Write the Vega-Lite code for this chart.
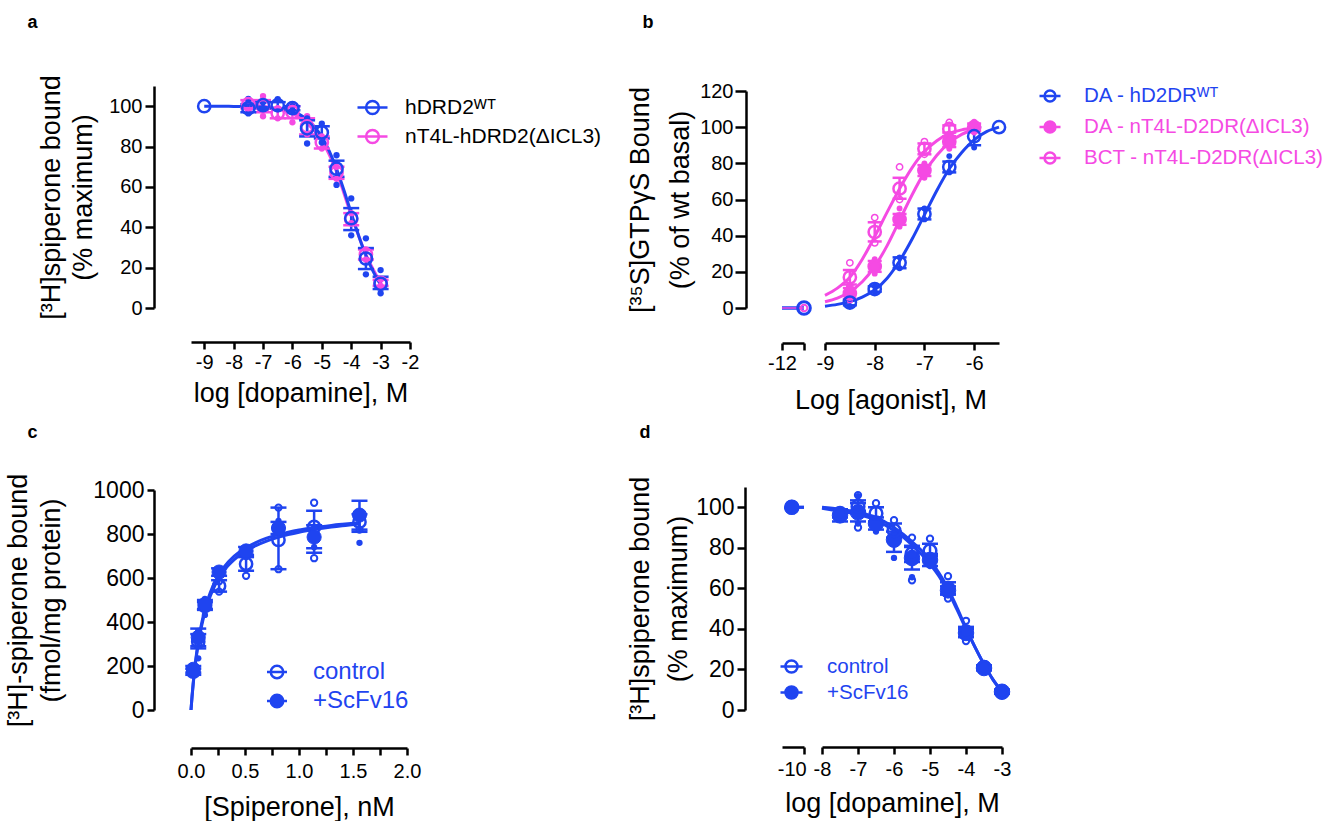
{
"$schema":"https://vega.github.io/schema/vega-lite/v6.json",
"padding":{"left":4,"top":13,"right":5,"bottom":5},
"config":{
 "font":"Liberation Sans",
 "view":{"stroke":null},
 "axis":{"domainColor":"black","domainWidth":2.5,"tickColor":"black","tickWidth":2.5,"tickSize":7,"labelFont":"Liberation Sans","labelFontSize":20,"labelColor":"black","labelPadding":3,"titleFont":"Liberation Sans","titleFontSize":27,"titleFontWeight":"normal","titleColor":"black","grid":false,"labelFlush":false,"labelOverlap":false},
 "legend":{"labelFont":"Liberation Sans","padding":0,"labelLimit":600,"symbolOpacity":1,"symbolStrokeWidth":2.5}
},
"columns":2,
"bounds":"flush",
"spacing":{"row":179,"column":372},
"resolve":{"scale":{"color":"independent","stroke":"independent","fill":"independent"},"legend":{"color":"independent","stroke":"independent","fill":"independent"}},
"datasets":{
 "a_curve":[
  {"s":"nT4L-hDRD2(ΔICL3)","x":-7.5,"y":100.5},{"s":"nT4L-hDRD2(ΔICL3)","x":-7,"y":100},{"s":"nT4L-hDRD2(ΔICL3)","x":-6.5,"y":98.5},{"s":"nT4L-hDRD2(ΔICL3)","x":-6,"y":96.5},{"s":"nT4L-hDRD2(ΔICL3)","x":-5.5,"y":91.5},{"s":"nT4L-hDRD2(ΔICL3)","x":-5,"y":83},{"s":"nT4L-hDRD2(ΔICL3)","x":-4.5,"y":67.5},{"s":"nT4L-hDRD2(ΔICL3)","x":-4,"y":46},{"s":"nT4L-hDRD2(ΔICL3)","x":-3.5,"y":26.5},{"s":"nT4L-hDRD2(ΔICL3)","x":-3,"y":12.5},
  {"s":"hDRD2ᵂᵀ","x":-9,"y":100},{"s":"hDRD2ᵂᵀ","x":-8.5,"y":100},{"s":"hDRD2ᵂᵀ","x":-8,"y":99.9},{"s":"hDRD2ᵂᵀ","x":-7.5,"y":99.8},{"s":"hDRD2ᵂᵀ","x":-7,"y":99.5},{"s":"hDRD2ᵂᵀ","x":-6.5,"y":98.8},{"s":"hDRD2ᵂᵀ","x":-6,"y":97.3},{"s":"hDRD2ᵂᵀ","x":-5.75,"y":95.8},{"s":"hDRD2ᵂᵀ","x":-5.5,"y":93.3},{"s":"hDRD2ᵂᵀ","x":-5.25,"y":89.8},{"s":"hDRD2ᵂᵀ","x":-5,"y":84.8},{"s":"hDRD2ᵂᵀ","x":-4.75,"y":77.8},{"s":"hDRD2ᵂᵀ","x":-4.5,"y":69},{"s":"hDRD2ᵂᵀ","x":-4.25,"y":58.5},{"s":"hDRD2ᵂᵀ","x":-4,"y":47},{"s":"hDRD2ᵂᵀ","x":-3.75,"y":36},{"s":"hDRD2ᵂᵀ","x":-3.5,"y":26},{"s":"hDRD2ᵂᵀ","x":-3.25,"y":18},{"s":"hDRD2ᵂᵀ","x":-3,"y":11.5}
 ],
 "a_mean":[
  {"s":"nT4L-hDRD2(ΔICL3)","x":-7.5,"y":101,"lo":99,"hi":103},{"s":"nT4L-hDRD2(ΔICL3)","x":-7,"y":100,"lo":97,"hi":103},{"s":"nT4L-hDRD2(ΔICL3)","x":-6.5,"y":96.5,"lo":94,"hi":99},{"s":"nT4L-hDRD2(ΔICL3)","x":-6,"y":97,"lo":94,"hi":100},{"s":"nT4L-hDRD2(ΔICL3)","x":-5.5,"y":90,"lo":86,"hi":94},{"s":"nT4L-hDRD2(ΔICL3)","x":-5,"y":82,"lo":79,"hi":85},{"s":"nT4L-hDRD2(ΔICL3)","x":-4.5,"y":67,"lo":64,"hi":70},{"s":"nT4L-hDRD2(ΔICL3)","x":-4,"y":44,"lo":41,"hi":47},{"s":"nT4L-hDRD2(ΔICL3)","x":-3.5,"y":26.5,"lo":24,"hi":29},{"s":"nT4L-hDRD2(ΔICL3)","x":-3,"y":12.5,"lo":11,"hi":14},
  {"s":"hDRD2ᵂᵀ","x":-9,"y":100},{"s":"hDRD2ᵂᵀ","x":-7.5,"y":99,"lo":97,"hi":101},{"s":"hDRD2ᵂᵀ","x":-7,"y":100.5,"lo":99,"hi":102},{"s":"hDRD2ᵂᵀ","x":-6.5,"y":100.5,"lo":99,"hi":102},{"s":"hDRD2ᵂᵀ","x":-6,"y":99,"lo":98,"hi":100},{"s":"hDRD2ᵂᵀ","x":-5.5,"y":89,"lo":85,"hi":93},{"s":"hDRD2ᵂᵀ","x":-5,"y":87,"lo":84,"hi":90},{"s":"hDRD2ᵂᵀ","x":-4.5,"y":69,"lo":65,"hi":73},{"s":"hDRD2ᵂᵀ","x":-4,"y":44.5,"lo":38.6,"hi":49.5},{"s":"hDRD2ᵂᵀ","x":-3.5,"y":24.5,"lo":19.3,"hi":29.7},{"s":"hDRD2ᵂᵀ","x":-3,"y":12,"lo":9.4,"hi":15.5}
 ],
 "a_rep":[
  {"s":"nT4L-hDRD2(ΔICL3)","x":-7.5,"y":103},{"s":"nT4L-hDRD2(ΔICL3)","x":-7.5,"y":98},{"s":"nT4L-hDRD2(ΔICL3)","x":-7,"y":105},{"s":"nT4L-hDRD2(ΔICL3)","x":-7,"y":95},{"s":"nT4L-hDRD2(ΔICL3)","x":-6.5,"y":94},{"s":"nT4L-hDRD2(ΔICL3)","x":-6.5,"y":99},{"s":"nT4L-hDRD2(ΔICL3)","x":-6,"y":101},{"s":"nT4L-hDRD2(ΔICL3)","x":-6,"y":92},{"s":"nT4L-hDRD2(ΔICL3)","x":-5.5,"y":95},{"s":"nT4L-hDRD2(ΔICL3)","x":-5.5,"y":86},{"s":"nT4L-hDRD2(ΔICL3)","x":-5,"y":79},{"s":"nT4L-hDRD2(ΔICL3)","x":-5,"y":85},{"s":"nT4L-hDRD2(ΔICL3)","x":-4.5,"y":64},{"s":"nT4L-hDRD2(ΔICL3)","x":-4.5,"y":70},{"s":"nT4L-hDRD2(ΔICL3)","x":-4,"y":42},{"s":"nT4L-hDRD2(ΔICL3)","x":-4,"y":47},{"s":"nT4L-hDRD2(ΔICL3)","x":-3.5,"y":24},{"s":"nT4L-hDRD2(ΔICL3)","x":-3.5,"y":29},{"s":"nT4L-hDRD2(ΔICL3)","x":-3,"y":11},{"s":"nT4L-hDRD2(ΔICL3)","x":-3,"y":14},
  {"s":"hDRD2ᵂᵀ","x":-7.5,"y":103.6},{"s":"hDRD2ᵂᵀ","x":-7.5,"y":96.4},{"s":"hDRD2ᵂᵀ","x":-7,"y":102},{"s":"hDRD2ᵂᵀ","x":-7,"y":99},{"s":"hDRD2ᵂᵀ","x":-6.5,"y":103.5},{"s":"hDRD2ᵂᵀ","x":-6.5,"y":98.5},{"s":"hDRD2ᵂᵀ","x":-6,"y":100},{"s":"hDRD2ᵂᵀ","x":-6,"y":98},{"s":"hDRD2ᵂᵀ","x":-5.5,"y":94},{"s":"hDRD2ᵂᵀ","x":-5.5,"y":81.5},{"s":"hDRD2ᵂᵀ","x":-5,"y":91.4},{"s":"hDRD2ᵂᵀ","x":-5,"y":82},{"s":"hDRD2ᵂᵀ","x":-4.5,"y":75.7},{"s":"hDRD2ᵂᵀ","x":-4.5,"y":61},{"s":"hDRD2ᵂᵀ","x":-4,"y":54.3},{"s":"hDRD2ᵂᵀ","x":-4,"y":36},{"s":"hDRD2ᵂᵀ","x":-3.5,"y":34.5},{"s":"hDRD2ᵂᵀ","x":-3.5,"y":16.7},{"s":"hDRD2ᵂᵀ","x":-3,"y":18.8},{"s":"hDRD2ᵂᵀ","x":-3,"y":7.3}
 ],
 "b_basal":[
  {"s":"DA - hD2DRᵂᵀ","x":-12,"y":0},{"s":"DA - hD2DRᵂᵀ","x":-11.5,"y":0},{"s":"BCT - nT4L-D2DR(ΔICL3)","x":-12,"y":0},{"s":"BCT - nT4L-D2DR(ΔICL3)","x":-11.5,"y":0}
 ],
 "b_curve":[
  {"s":"BCT - nT4L-D2DR(ΔICL3)","x":-9,"y":7},{"s":"BCT - nT4L-D2DR(ΔICL3)","x":-8.75,"y":11},{"s":"BCT - nT4L-D2DR(ΔICL3)","x":-8.5,"y":17},{"s":"BCT - nT4L-D2DR(ΔICL3)","x":-8.25,"y":27},{"s":"BCT - nT4L-D2DR(ΔICL3)","x":-8,"y":39.5},{"s":"BCT - nT4L-D2DR(ΔICL3)","x":-7.75,"y":53},{"s":"BCT - nT4L-D2DR(ΔICL3)","x":-7.5,"y":66},{"s":"BCT - nT4L-D2DR(ΔICL3)","x":-7.25,"y":77.5},{"s":"BCT - nT4L-D2DR(ΔICL3)","x":-7,"y":86.5},{"s":"BCT - nT4L-D2DR(ΔICL3)","x":-6.75,"y":92.5},{"s":"BCT - nT4L-D2DR(ΔICL3)","x":-6.5,"y":96.5},{"s":"BCT - nT4L-D2DR(ΔICL3)","x":-6.25,"y":98.5},{"s":"BCT - nT4L-D2DR(ΔICL3)","x":-6,"y":99.5},
  {"s":"DA - nT4L-D2DR(ΔICL3)","x":-9,"y":3.5},{"s":"DA - nT4L-D2DR(ΔICL3)","x":-8.75,"y":5.5},{"s":"DA - nT4L-D2DR(ΔICL3)","x":-8.5,"y":9},{"s":"DA - nT4L-D2DR(ΔICL3)","x":-8.25,"y":14.5},{"s":"DA - nT4L-D2DR(ΔICL3)","x":-8,"y":23},{"s":"DA - nT4L-D2DR(ΔICL3)","x":-7.75,"y":34.5},{"s":"DA - nT4L-D2DR(ΔICL3)","x":-7.5,"y":48.5},{"s":"DA - nT4L-D2DR(ΔICL3)","x":-7.25,"y":62.5},{"s":"DA - nT4L-D2DR(ΔICL3)","x":-7,"y":75},{"s":"DA - nT4L-D2DR(ΔICL3)","x":-6.75,"y":84.5},{"s":"DA - nT4L-D2DR(ΔICL3)","x":-6.5,"y":91.5},{"s":"DA - nT4L-D2DR(ΔICL3)","x":-6.25,"y":96},{"s":"DA - nT4L-D2DR(ΔICL3)","x":-6,"y":99},
  {"s":"DA - hD2DRᵂᵀ","x":-9,"y":1},{"s":"DA - hD2DRᵂᵀ","x":-8.75,"y":2},{"s":"DA - hD2DRᵂᵀ","x":-8.5,"y":3.5},{"s":"DA - hD2DRᵂᵀ","x":-8.25,"y":6},{"s":"DA - hD2DRᵂᵀ","x":-8,"y":10},{"s":"DA - hD2DRᵂᵀ","x":-7.75,"y":16.5},{"s":"DA - hD2DRᵂᵀ","x":-7.5,"y":26},{"s":"DA - hD2DRᵂᵀ","x":-7.25,"y":38},{"s":"DA - hD2DRᵂᵀ","x":-7,"y":51.5},{"s":"DA - hD2DRᵂᵀ","x":-6.75,"y":65},{"s":"DA - hD2DRᵂᵀ","x":-6.5,"y":77},{"s":"DA - hD2DRᵂᵀ","x":-6.25,"y":86},{"s":"DA - hD2DRᵂᵀ","x":-6,"y":93},{"s":"DA - hD2DRᵂᵀ","x":-5.75,"y":97.5},{"s":"DA - hD2DRᵂᵀ","x":-5.5,"y":100}
 ],
 "b_mean":[
  {"s":"BCT - nT4L-D2DR(ΔICL3)","x":-8.5,"y":17,"lo":13,"hi":21},{"s":"BCT - nT4L-D2DR(ΔICL3)","x":-8,"y":42,"lo":36.8,"hi":47.4},{"s":"BCT - nT4L-D2DR(ΔICL3)","x":-7.5,"y":66,"lo":60.4,"hi":72},{"s":"BCT - nT4L-D2DR(ΔICL3)","x":-7,"y":88,"lo":85,"hi":91},{"s":"BCT - nT4L-D2DR(ΔICL3)","x":-6.5,"y":99,"lo":97,"hi":101},
  {"s":"DA - nT4L-D2DR(ΔICL3)","x":-8.5,"y":8,"lo":5,"hi":11},{"s":"DA - nT4L-D2DR(ΔICL3)","x":-8,"y":23,"lo":20,"hi":26},{"s":"DA - nT4L-D2DR(ΔICL3)","x":-7.5,"y":49,"lo":46,"hi":52},{"s":"DA - nT4L-D2DR(ΔICL3)","x":-7,"y":76,"lo":73,"hi":79},{"s":"DA - nT4L-D2DR(ΔICL3)","x":-6.5,"y":92,"lo":89,"hi":95},{"s":"DA - nT4L-D2DR(ΔICL3)","x":-6,"y":100,"lo":98,"hi":102},
  {"s":"DA - hD2DRᵂᵀ","x":-8.5,"y":3,"lo":1.5,"hi":4.5},{"s":"DA - hD2DRᵂᵀ","x":-8,"y":10.5,"lo":9,"hi":12},{"s":"DA - hD2DRᵂᵀ","x":-7.5,"y":25,"lo":22,"hi":28},{"s":"DA - hD2DRᵂᵀ","x":-7,"y":52,"lo":49,"hi":55},{"s":"DA - hD2DRᵂᵀ","x":-6.5,"y":78,"lo":75,"hi":81},{"s":"DA - hD2DRᵂᵀ","x":-6,"y":95,"lo":90,"hi":100},{"s":"DA - hD2DRᵂᵀ","x":-5.5,"y":100}
 ],
 "b_rep":[
  {"s":"BCT - nT4L-D2DR(ΔICL3)","x":-8.5,"y":25},{"s":"BCT - nT4L-D2DR(ΔICL3)","x":-8.5,"y":12},{"s":"BCT - nT4L-D2DR(ΔICL3)","x":-8,"y":50},{"s":"BCT - nT4L-D2DR(ΔICL3)","x":-8,"y":36},{"s":"BCT - nT4L-D2DR(ΔICL3)","x":-7.5,"y":78},{"s":"BCT - nT4L-D2DR(ΔICL3)","x":-7.5,"y":60},{"s":"BCT - nT4L-D2DR(ΔICL3)","x":-7,"y":92},{"s":"BCT - nT4L-D2DR(ΔICL3)","x":-7,"y":85},{"s":"BCT - nT4L-D2DR(ΔICL3)","x":-6.5,"y":102.6},{"s":"BCT - nT4L-D2DR(ΔICL3)","x":-6.5,"y":96},
  {"s":"DA - nT4L-D2DR(ΔICL3)","x":-8.5,"y":12},{"s":"DA - nT4L-D2DR(ΔICL3)","x":-8.5,"y":4},{"s":"DA - nT4L-D2DR(ΔICL3)","x":-8,"y":27},{"s":"DA - nT4L-D2DR(ΔICL3)","x":-8,"y":19},{"s":"DA - nT4L-D2DR(ΔICL3)","x":-7.5,"y":55},{"s":"DA - nT4L-D2DR(ΔICL3)","x":-7.5,"y":45},{"s":"DA - nT4L-D2DR(ΔICL3)","x":-7,"y":80},{"s":"DA - nT4L-D2DR(ΔICL3)","x":-7,"y":72},{"s":"DA - nT4L-D2DR(ΔICL3)","x":-6.5,"y":95},{"s":"DA - nT4L-D2DR(ΔICL3)","x":-6.5,"y":88},{"s":"DA - nT4L-D2DR(ΔICL3)","x":-6,"y":103},{"s":"DA - nT4L-D2DR(ΔICL3)","x":-6,"y":97},
  {"s":"DA - hD2DRᵂᵀ","x":-8.5,"y":5},{"s":"DA - hD2DRᵂᵀ","x":-8.5,"y":1},{"s":"DA - hD2DRᵂᵀ","x":-8,"y":12},{"s":"DA - hD2DRᵂᵀ","x":-8,"y":9},{"s":"DA - hD2DRᵂᵀ","x":-7.5,"y":28},{"s":"DA - hD2DRᵂᵀ","x":-7.5,"y":22},{"s":"DA - hD2DRᵂᵀ","x":-7,"y":55},{"s":"DA - hD2DRᵂᵀ","x":-7,"y":49},{"s":"DA - hD2DRᵂᵀ","x":-6.5,"y":84},{"s":"DA - hD2DRᵂᵀ","x":-6.5,"y":75},{"s":"DA - hD2DRᵂᵀ","x":-6,"y":100.7},{"s":"DA - hD2DRᵂᵀ","x":-6,"y":88.7}
 ],
 "c_curve":[
  {"s":"control","x":0,"y":0},{"s":"control","x":0.01,"y":62},{"s":"control","x":0.02,"y":116},{"s":"control","x":0.04,"y":206},{"s":"control","x":0.06,"y":278},{"s":"control","x":0.08,"y":337},{"s":"control","x":0.1,"y":386},{"s":"control","x":0.13,"y":446},{"s":"control","x":0.16,"y":493},{"s":"control","x":0.2,"y":544},{"s":"control","x":0.25,"y":592},{"s":"control","x":0.3,"y":630},{"s":"control","x":0.4,"y":683},{"s":"control","x":0.5,"y":720},{"s":"control","x":0.6,"y":747},{"s":"control","x":0.7,"y":768},{"s":"control","x":0.8,"y":784},{"s":"control","x":0.9,"y":797},{"s":"control","x":1.0,"y":808},{"s":"control","x":1.1,"y":817},{"s":"control","x":1.2,"y":825},{"s":"control","x":1.3,"y":832},{"s":"control","x":1.4,"y":838},{"s":"control","x":1.56,"y":846},
  {"s":"+ScFv16","x":0,"y":0},{"s":"+ScFv16","x":0.01,"y":65},{"s":"+ScFv16","x":0.02,"y":120},{"s":"+ScFv16","x":0.04,"y":213},{"s":"+ScFv16","x":0.06,"y":287},{"s":"+ScFv16","x":0.08,"y":348},{"s":"+ScFv16","x":0.1,"y":398},{"s":"+ScFv16","x":0.13,"y":460},{"s":"+ScFv16","x":0.16,"y":508},{"s":"+ScFv16","x":0.2,"y":560},{"s":"+ScFv16","x":0.25,"y":608},{"s":"+ScFv16","x":0.3,"y":646},{"s":"+ScFv16","x":0.4,"y":699},{"s":"+ScFv16","x":0.5,"y":735},{"s":"+ScFv16","x":0.6,"y":761},{"s":"+ScFv16","x":0.7,"y":781},{"s":"+ScFv16","x":0.8,"y":796},{"s":"+ScFv16","x":0.9,"y":808},{"s":"+ScFv16","x":1.0,"y":818},{"s":"+ScFv16","x":1.1,"y":826},{"s":"+ScFv16","x":1.2,"y":833},{"s":"+ScFv16","x":1.3,"y":839},{"s":"+ScFv16","x":1.4,"y":844},{"s":"+ScFv16","x":1.56,"y":851}
 ],
 "c_mean":[
  {"s":"control","x":0.021,"y":174,"lo":160,"hi":188},{"s":"control","x":0.067,"y":310,"lo":280,"hi":345},{"s":"control","x":0.129,"y":473,"lo":455,"hi":490},{"s":"control","x":0.26,"y":564,"lo":538,"hi":590},{"s":"control","x":0.51,"y":664,"lo":633,"hi":695},{"s":"control","x":0.81,"y":773,"lo":640,"hi":920},{"s":"control","x":1.14,"y":832,"lo":715,"hi":906},{"s":"control","x":1.56,"y":855,"lo":820,"hi":890},
  {"s":"+ScFv16","x":0.021,"y":185,"lo":170,"hi":200},{"s":"+ScFv16","x":0.067,"y":330,"lo":290,"hi":370},{"s":"+ScFv16","x":0.129,"y":480,"lo":460,"hi":500},{"s":"+ScFv16","x":0.26,"y":627,"lo":610,"hi":644},{"s":"+ScFv16","x":0.51,"y":723,"lo":705,"hi":741},{"s":"+ScFv16","x":0.81,"y":827,"lo":800,"hi":855},{"s":"+ScFv16","x":1.14,"y":786,"lo":735,"hi":840},{"s":"+ScFv16","x":1.56,"y":886,"lo":810,"hi":951}
 ],
 "c_rep":[
  {"s":"control","x":0.021,"y":165},{"s":"control","x":0.021,"y":182},{"s":"control","x":0.067,"y":295},{"s":"control","x":0.067,"y":330},{"s":"control","x":0.129,"y":460},{"s":"control","x":0.129,"y":485},{"s":"control","x":0.26,"y":538},{"s":"control","x":0.26,"y":585},{"s":"control","x":0.51,"y":610},{"s":"control","x":0.51,"y":700},{"s":"control","x":0.81,"y":640},{"s":"control","x":0.81,"y":920},{"s":"control","x":1.14,"y":690},{"s":"control","x":1.14,"y":942},{"s":"control","x":1.56,"y":820},{"s":"control","x":1.56,"y":890},
  {"s":"+ScFv16","x":0.021,"y":175},{"s":"+ScFv16","x":0.067,"y":235},{"s":"+ScFv16","x":0.067,"y":360},{"s":"+ScFv16","x":0.129,"y":432},{"s":"+ScFv16","x":0.129,"y":505},{"s":"+ScFv16","x":0.26,"y":610},{"s":"+ScFv16","x":0.26,"y":640},{"s":"+ScFv16","x":0.51,"y":705},{"s":"+ScFv16","x":0.51,"y":740},{"s":"+ScFv16","x":0.81,"y":800},{"s":"+ScFv16","x":0.81,"y":860},{"s":"+ScFv16","x":1.14,"y":740},{"s":"+ScFv16","x":1.14,"y":830},{"s":"+ScFv16","x":1.56,"y":760},{"s":"+ScFv16","x":1.56,"y":900}
 ],
 "d_basal":[
  {"s":"control","x":-10,"y":100},{"s":"control","x":-9.5,"y":100},{"s":"+ScFv16","x":-10,"y":100},{"s":"+ScFv16","x":-9.5,"y":100}
 ],
 "d_curve":[
  {"s":"control","x":-8,"y":100},{"s":"control","x":-7.5,"y":99},{"s":"control","x":-7,"y":97.5},{"s":"control","x":-6.5,"y":95},{"s":"control","x":-6,"y":90},{"s":"control","x":-5.5,"y":83},{"s":"control","x":-5,"y":74},{"s":"control","x":-4.75,"y":67.5},{"s":"control","x":-4.5,"y":60},{"s":"control","x":-4.25,"y":50.5},{"s":"control","x":-4,"y":40.5},{"s":"control","x":-3.75,"y":31},{"s":"control","x":-3.5,"y":22.5},{"s":"control","x":-3.25,"y":15},{"s":"control","x":-3,"y":9},
  {"s":"+ScFv16","x":-8,"y":99.5},{"s":"+ScFv16","x":-7.5,"y":98},{"s":"+ScFv16","x":-7,"y":96.5},{"s":"+ScFv16","x":-6.5,"y":93.5},{"s":"+ScFv16","x":-6,"y":88.5},{"s":"+ScFv16","x":-5.5,"y":81.5},{"s":"+ScFv16","x":-5,"y":72},{"s":"+ScFv16","x":-4.75,"y":66},{"s":"+ScFv16","x":-4.5,"y":58.5},{"s":"+ScFv16","x":-4.25,"y":49.5},{"s":"+ScFv16","x":-4,"y":40},{"s":"+ScFv16","x":-3.75,"y":31},{"s":"+ScFv16","x":-3.5,"y":22.5},{"s":"+ScFv16","x":-3.25,"y":15},{"s":"+ScFv16","x":-3,"y":9}
 ],
 "d_mean":[
  {"s":"+ScFv16","x":-7.5,"y":96,"lo":93,"hi":99},{"s":"+ScFv16","x":-7,"y":97.5,"lo":93,"hi":102},{"s":"+ScFv16","x":-6.5,"y":92,"lo":89,"hi":95},{"s":"+ScFv16","x":-6,"y":84,"lo":78,"hi":88},{"s":"+ScFv16","x":-5.5,"y":75,"lo":69.3,"hi":80.4},{"s":"+ScFv16","x":-5,"y":74,"lo":71,"hi":77},{"s":"+ScFv16","x":-4.5,"y":59,"lo":57,"hi":61},{"s":"+ScFv16","x":-4,"y":38,"lo":36,"hi":40},{"s":"+ScFv16","x":-3.5,"y":20.7,"lo":19.5,"hi":22},{"s":"+ScFv16","x":-3,"y":9,"lo":8,"hi":10},
  {"s":"control","x":-7.5,"y":97,"lo":95,"hi":99},{"s":"control","x":-7,"y":100.5,"lo":98,"hi":103.4},{"s":"control","x":-6.5,"y":97,"lo":93,"hi":100},{"s":"control","x":-6,"y":88.5,"lo":85,"hi":92},{"s":"control","x":-5.5,"y":77,"lo":73,"hi":81},{"s":"control","x":-5,"y":78.5,"lo":76,"hi":82},{"s":"control","x":-4.5,"y":60,"lo":57,"hi":63},{"s":"control","x":-4,"y":38.5,"lo":36,"hi":41},{"s":"control","x":-3.5,"y":21,"lo":20,"hi":22},{"s":"control","x":-3,"y":9,"lo":8,"hi":10}
 ],
 "d_rep":[
  {"s":"control","x":-7.5,"y":95},{"s":"control","x":-7,"y":90},{"s":"control","x":-7,"y":106},{"s":"control","x":-6.5,"y":102},{"s":"control","x":-6.5,"y":93},{"s":"control","x":-6,"y":93.6},{"s":"control","x":-6,"y":84},{"s":"control","x":-5.5,"y":85},{"s":"control","x":-5.5,"y":64},{"s":"control","x":-5,"y":84.5},{"s":"control","x":-5,"y":73},{"s":"control","x":-4.5,"y":66},{"s":"control","x":-4.5,"y":55},{"s":"control","x":-4,"y":44},{"s":"control","x":-4,"y":34},{"s":"control","x":-3.5,"y":22},{"s":"control","x":-3,"y":10},
  {"s":"+ScFv16","x":-7.5,"y":98},{"s":"+ScFv16","x":-7,"y":105.5},{"s":"+ScFv16","x":-7,"y":92},{"s":"+ScFv16","x":-6.5,"y":88},{"s":"+ScFv16","x":-6,"y":75},{"s":"+ScFv16","x":-6,"y":87},{"s":"+ScFv16","x":-5.5,"y":65.5},{"s":"+ScFv16","x":-5,"y":76},{"s":"+ScFv16","x":-5,"y":71},{"s":"+ScFv16","x":-4.5,"y":57},{"s":"+ScFv16","x":-4,"y":36},{"s":"+ScFv16","x":-3.5,"y":20},{"s":"+ScFv16","x":-3,"y":8}
 ]
},
"concat":[
 {
  "width":219,"height":222,
  "resolve":{"axis":{"x":"independent"}},
  "encoding":{
   "y":{"field":"y","type":"quantitative","scale":{"domain":[0,110],"nice":false},"axis":{"title":["[³H]spiperone bound","(% maximum)"],"values":[0,20,40,60,80,100],"offset":37,"tickSize":9,"titlePadding":11,"titleLineHeight":32}},
   "color":{"field":"s","type":"nominal","scale":{"domain":["nT4L-hDRD2(ΔICL3)","hDRD2ᵂᵀ"],"range":["#f54ae3","#1f44f0"]},"legend":null}
  },
  "layer":[
   {"data":{"name":"a_curve"},"mark":{"type":"line","strokeWidth":3,"interpolate":"monotone"},
    "encoding":{"x":{"field":"x","type":"quantitative","scale":{"domain":[-9.45,-2],"nice":false,"zero":false},"axis":{"orient":"top","domain":false,"ticks":false,"labels":false,"title":"a","titleX":-164,"titleY":-59,"titleAlign":"left","titleBaseline":"alphabetic","titleAngle":0,"titleFontSize":18,"titleFontWeight":"bold"}}}},
   {
    "encoding":{"x":{"field":"x","type":"quantitative","scale":{"domain":[-9.45,-2],"nice":false,"zero":false},"axis":{"orient":"bottom","title":"log [dopamine], M","values":[-9,-8,-7,-6,-5,-4,-3,-2],"offset":34,"labelExpr":"datum.value + ''","titlePadding":8}}},
    "layer":[
     {"data":{"name":"a_mean"},"transform":[{"filter":"isValid(datum.lo)"}],"mark":{"type":"rule","strokeWidth":2.5},
      "encoding":{"y":{"field":"lo","type":"quantitative","scale":{"domain":[0,110],"nice":false},"axis":{"title":["[³H]spiperone bound","(% maximum)"],"values":[0,20,40,60,80,100],"offset":37,"tickSize":9,"titlePadding":11,"titleLineHeight":32}},"y2":{"field":"hi"}}},
     {"data":{"name":"a_mean"},"transform":[{"filter":"isValid(datum.lo)"},{"fold":["lo","hi"],"as":["k","v"]}],"mark":{"type":"tick","orient":"horizontal","size":16,"thickness":2.5,"opacity":1},
      "encoding":{"y":{"field":"v","type":"quantitative","scale":{"domain":[0,110],"nice":false},"axis":{"title":["[³H]spiperone bound","(% maximum)"],"values":[0,20,40,60,80,100],"offset":37,"tickSize":9,"titlePadding":11,"titleLineHeight":32}}}},
     {"data":{"name":"a_rep"},"mark":{"type":"point","filled":true,"size":40,"opacity":1}},
     {"data":{"name":"a_mean"},"mark":{"type":"point","filled":false,"size":150,"strokeWidth":2.5,"opacity":1},
      "encoding":{"stroke":{"field":"s","type":"nominal","scale":{"domain":["hDRD2ᵂᵀ","nT4L-hDRD2(ΔICL3)"],"range":["#1f44f0","#f54ae3"]},
       "legend":{"orient":"none","legendX":165,"legendY":5,"title":null,"symbolType":"M-1,0H1M0.43,0A0.43,0.43 0 1 1 -0.43,0A0.43,0.43 0 1 1 0.43,0Z","symbolSize":900,"symbolFillColor":"transparent","labelFontSize":21,"labelOffset":16,"rowPadding":1,
        "encode":{"labels":{"update":{"fill":{"signal":"indexof(datum.label, 'nT4L') >= 0 ? '#f54ae3' : '#1f44f0'"}}}}}}}}
    ]
   }
  ]
 },
 {
  "width":217,"height":222,
  "resolve":{"scale":{"x":"independent"},"axis":{"x":"independent"}},
  "layer":[
   {
    "data":{"name":"b_basal"},
    "encoding":{
     "x":{"field":"x","type":"quantitative","scale":{"domain":[-12,-11.5],"range":[0,22],"nice":false,"zero":false},"axis":{"title":"b","titleX":-140,"titleY":-316,"titleAlign":"left","titleBaseline":"alphabetic","titleAngle":0,"titleFontSize":18,"titleFontWeight":"bold","orient":"bottom","values":[-12,-11.5],"offset":35,"labelExpr":"datum.value == -12 ? '-12' : ''"}},
     "y":{"field":"y","type":"quantitative","scale":{"domain":[0,120],"range":[222,5],"nice":false},"axis":{"title":["[³⁵S]GTPγS Bound","(% of wt basal)"],"values":[0,20,40,60,80,100,120],"offset":36,"tickSize":11,"labelPadding":2,"titlePadding":5,"titleLineHeight":40}},
     "color":{"field":"s","type":"nominal","scale":{"domain":["BCT - nT4L-D2DR(ΔICL3)","DA - nT4L-D2DR(ΔICL3)","DA - hD2DRᵂᵀ"],"range":["#f54ae3","#f54ae3","#1f44f0"]},"legend":null}
    },
    "layer":[
     {"transform":[{"filter":"indexof(datum.s, 'BCT') < 0"}],"mark":{"type":"line","strokeWidth":3.5}},
     {"transform":[{"filter":"indexof(datum.s, 'BCT') >= 0"}],"mark":{"type":"line","strokeWidth":1.5}},
     {"transform":[{"filter":"indexof(datum.s, 'BCT') < 0 && datum.x == -11.5"}],"mark":{"type":"point","filled":false,"size":160,"strokeWidth":3,"opacity":1}},
     {"transform":[{"filter":"indexof(datum.s, 'BCT') >= 0 && datum.x == -11.5"}],"mark":{"type":"point","filled":false,"size":45,"strokeWidth":2,"opacity":1}}
    ]
   },
   {
    "encoding":{
     "x":{"field":"x","type":"quantitative","scale":{"domain":[-9,-5.5],"range":[43,217],"nice":false,"zero":false},"axis":{"title":"Log [agonist], M","orient":"bottom","values":[-9,-8,-7,-6],"offset":35,"labelExpr":"datum.value + ''","titlePadding":14,"titleX":108.5}},
     "y":{"field":"y","type":"quantitative","scale":{"domain":[0,120],"range":[222,5],"nice":false},"axis":{"title":["[³⁵S]GTPγS Bound","(% of wt basal)"],"values":[0,20,40,60,80,100,120],"offset":36,"tickSize":11,"labelPadding":2,"titlePadding":5,"titleLineHeight":40}},
     "color":{"field":"s","type":"nominal","scale":{"domain":["BCT - nT4L-D2DR(ΔICL3)","DA - nT4L-D2DR(ΔICL3)","DA - hD2DRᵂᵀ"],"range":["#f54ae3","#f54ae3","#1f44f0"]},"legend":null}
    },
    "layer":[
     {"data":{"name":"b_curve"},"mark":{"type":"line","strokeWidth":3,"interpolate":"monotone"}},
     {"data":{"name":"b_mean"},"transform":[{"filter":"isValid(datum.lo)"}],"mark":{"type":"rule","strokeWidth":2.5},
      "encoding":{"y":{"field":"lo","type":"quantitative","scale":{"domain":[0,120],"range":[222,5],"nice":false},"axis":{"title":["[³⁵S]GTPγS Bound","(% of wt basal)"],"values":[0,20,40,60,80,100,120],"offset":36,"tickSize":11,"labelPadding":2,"titlePadding":5,"titleLineHeight":40}},"y2":{"field":"hi"}}},
     {"data":{"name":"b_mean"},"transform":[{"filter":"isValid(datum.lo)"},{"fold":["lo","hi"],"as":["k","v"]}],"mark":{"type":"tick","orient":"horizontal","size":14,"thickness":2.5,"opacity":1},
      "encoding":{"y":{"field":"v","type":"quantitative","scale":{"domain":[0,120],"range":[222,5],"nice":false},"axis":{"title":["[³⁵S]GTPγS Bound","(% of wt basal)"],"values":[0,20,40,60,80,100,120],"offset":36,"tickSize":11,"labelPadding":2,"titlePadding":5,"titleLineHeight":40}}}},
     {"data":{"name":"b_rep"},"transform":[{"filter":"indexof(datum.s, 'BCT') < 0"}],"mark":{"type":"point","filled":true,"size":35,"opacity":1}},
     {"data":{"name":"b_rep"},"transform":[{"filter":"indexof(datum.s, 'BCT') >= 0"}],"mark":{"type":"point","filled":false,"size":40,"strokeWidth":1.5,"opacity":1}},
     {"data":{"name":"b_mean"},"mark":{"type":"point","filled":true,"size":150,"strokeWidth":2.5,"opacity":1},
      "encoding":{
       "stroke":{"field":"s","type":"nominal","scale":{"domain":["DA - hD2DRᵂᵀ","DA - nT4L-D2DR(ΔICL3)","BCT - nT4L-D2DR(ΔICL3)"],"range":["#1f44f0","#f54ae3","#f54ae3"]},
        "legend":{"orient":"none","legendX":256,"legendY":-2,"title":null,"symbolType":"M-1,0H1M0.52,0A0.52,0.52 0 1 1 -0.52,0A0.52,0.52 0 1 1 0.52,0Z","symbolSize":441,"symbolFillColor":"transparent","symbolStrokeColor":"#1f44f0","labelFontSize":20.5,"labelOffset":22,"rowPadding":8,
         "encode":{"labels":{"update":{"fill":{"signal":"indexof(datum.label, 'nT4L') >= 0 ? '#f54ae3' : '#1f44f0'"}}}}}},
       "fill":{"field":"s","type":"nominal","scale":{"domain":["DA - hD2DRᵂᵀ","DA - nT4L-D2DR(ΔICL3)","BCT - nT4L-D2DR(ΔICL3)"],"range":["transparent","#f54ae3","transparent"]},
        "legend":{"orient":"none","legendX":256,"legendY":-2,"title":null,"symbolType":"M-1,0H1M0.52,0A0.52,0.52 0 1 1 -0.52,0A0.52,0.52 0 1 1 0.52,0Z","symbolSize":441,"symbolFillColor":"transparent","symbolStrokeColor":"#1f44f0","labelFontSize":20.5,"labelOffset":22,"rowPadding":8,
         "encode":{"labels":{"update":{"fill":{"signal":"indexof(datum.label, 'nT4L') >= 0 ? '#f54ae3' : '#1f44f0'"}}}}}}
      }}
    ]
   }
  ]
 },
 {
  "width":216,"height":223,
  "resolve":{"axis":{"x":"independent"}},
  "encoding":{
   "y":{"field":"y","type":"quantitative","scale":{"domain":[0,1000],"range":[223,3],"nice":false},"axis":{"title":["[³H]-spiperone bound","(fmol/mg protein)"],"values":[0,200,400,600,800,1000],"format":"d","offset":37,"tickSize":7,"labelFontSize":23,"titlePadding":27,"titleLineHeight":33}},
   "color":{"field":"s","type":"nominal","scale":{"domain":["+ScFv16","control"],"range":["#1f44f0","#1f44f0"]},"legend":null}
  },
  "layer":[
   {"data":{"name":"c_curve"},"mark":{"type":"line","strokeWidth":3,"interpolate":"monotone"},
    "encoding":{"x":{"field":"x","type":"quantitative","scale":{"domain":[0,2],"nice":false,"zero":false},"axis":{"orient":"top","domain":false,"ticks":false,"labels":false,"title":"c","titleX":-164,"titleY":-50,"titleAlign":"left","titleBaseline":"alphabetic","titleAngle":0,"titleFontSize":18,"titleFontWeight":"bold"}}}},
   {
    "encoding":{"x":{"field":"x","type":"quantitative","scale":{"domain":[0,2],"nice":false,"zero":false},"axis":{"orient":"bottom","title":"[Spiperone], nM","values":[0,0.25,0.5,0.75,1,1.25,1.5,1.75,2],"offset":38,"labelPadding":6,"labelExpr":"datum.value % 0.5 == 0 ? format(datum.value, '.1f') : ''","titlePadding":13}}},
    "layer":[
     {"data":{"name":"c_mean"},"mark":{"type":"rule","strokeWidth":2.5},
      "encoding":{"y":{"field":"lo","type":"quantitative","scale":{"domain":[0,1000],"range":[223,3],"nice":false},"axis":{"title":["[³H]-spiperone bound","(fmol/mg protein)"],"values":[0,200,400,600,800,1000],"format":"d","offset":37,"tickSize":7,"labelFontSize":23,"titlePadding":27,"titleLineHeight":33}},"y2":{"field":"hi"}}},
     {"data":{"name":"c_mean"},"transform":[{"fold":["lo","hi"],"as":["k","v"]}],"mark":{"type":"tick","orient":"horizontal","size":16,"thickness":2.5,"opacity":1},
      "encoding":{"y":{"field":"v","type":"quantitative","scale":{"domain":[0,1000],"range":[223,3],"nice":false},"axis":{"title":["[³H]-spiperone bound","(fmol/mg protein)"],"values":[0,200,400,600,800,1000],"format":"d","offset":37,"tickSize":7,"labelFontSize":23,"titlePadding":27,"titleLineHeight":33}}}},
     {"data":{"name":"c_rep"},"transform":[{"filter":"datum.s == 'control'"}],"mark":{"type":"point","filled":false,"size":40,"strokeWidth":2,"opacity":1}},
     {"data":{"name":"c_rep"},"transform":[{"filter":"datum.s != 'control'"}],"mark":{"type":"point","filled":true,"size":40,"opacity":1}},
     {"data":{"name":"c_mean"},"transform":[{"filter":"datum.s == 'control'"}],"mark":{"type":"point","filled":false,"size":150,"strokeWidth":2.5,"opacity":1}},
     {"data":{"name":"c_mean"},"transform":[{"filter":"datum.s != 'control'"}],"mark":{"type":"point","filled":true,"size":200,"stroke":"#1f44f0","strokeWidth":1,"opacity":1},
      "encoding":{"fill":{"field":"s","type":"nominal","scale":{"domain":["control","+ScFv16"],"range":["transparent","#1f44f0"]},
       "legend":{"orient":"none","legendX":74,"legendY":173,"title":null,"symbolType":"M-1,0H1M0.62,0A0.62,0.62 0 1 1 -0.62,0A0.62,0.62 0 1 1 0.62,0Z","symbolSize":400,"symbolStrokeColor":"#1f44f0","symbolStrokeWidth":2.5,"labelFontSize":24,"labelOffset":24,"rowPadding":5,"labelColor":"#1f44f0"}}}}
    ]
   }
  ]
 },
 {
  "width":220,"height":223,
  "resolve":{"scale":{"x":"independent"},"axis":{"x":"independent"}},
  "layer":[
   {
    "data":{"name":"d_basal"},
    "encoding":{
     "x":{"field":"x","type":"quantitative","scale":{"domain":[-10.4,-9.5],"range":[0,22],"nice":false,"zero":false},"axis":{"title":"d","titleX":-143,"titleY":-310,"titleAlign":"left","titleBaseline":"alphabetic","titleAngle":0,"titleFontSize":18,"titleFontWeight":"bold","orient":"bottom","values":[-10,-9.5],"offset":37,"labelPadding":5,"labelExpr":"datum.value == -10 ? '-10' : ''","tickOpacity":{"condition":{"test":"datum.value == -10","value":0},"value":1}}},
     "y":{"field":"y","type":"quantitative","scale":{"domain":[0,110],"nice":false},"axis":{"title":["[³H]spiperone bound","(% maximum)"],"values":[0,20,40,60,80,100],"offset":37,"tickSize":8,"labelFontSize":23,"titlePadding":3,"titleLineHeight":38}},
     "color":{"field":"s","type":"nominal","scale":{"domain":["+ScFv16","control"],"range":["#1f44f0","#1f44f0"]},"legend":null}
    },
    "layer":[
     {"mark":{"type":"line","strokeWidth":3}},
     {"transform":[{"filter":"datum.s == 'control' && datum.x == -10"}],"mark":{"type":"point","filled":false,"size":160,"strokeWidth":2.5,"opacity":1}},
     {"transform":[{"filter":"datum.s != 'control' && datum.x == -10"}],"mark":{"type":"point","filled":true,"size":240,"opacity":1}}
    ]
   },
   {
    "encoding":{
     "x":{"field":"x","type":"quantitative","scale":{"domain":[-8,-3],"range":[40,220],"nice":false,"zero":false},"axis":{"title":"log [dopamine], M","orient":"bottom","values":[-8,-7,-6,-5,-4,-3],"offset":37,"labelPadding":5,"labelExpr":"datum.value + ''","titlePadding":11,"titleX":110}},
     "y":{"field":"y","type":"quantitative","scale":{"domain":[0,110],"nice":false},"axis":{"title":["[³H]spiperone bound","(% maximum)"],"values":[0,20,40,60,80,100],"offset":37,"tickSize":8,"labelFontSize":23,"titlePadding":3,"titleLineHeight":38}},
     "color":{"field":"s","type":"nominal","scale":{"domain":["+ScFv16","control"],"range":["#1f44f0","#1f44f0"]},"legend":null}
    },
    "layer":[
     {"data":{"name":"d_curve"},"mark":{"type":"line","strokeWidth":3,"interpolate":"monotone"}},
     {"data":{"name":"d_mean"},"mark":{"type":"rule","strokeWidth":2.5},
      "encoding":{"y":{"field":"lo","type":"quantitative","scale":{"domain":[0,110],"nice":false},"axis":{"title":["[³H]spiperone bound","(% maximum)"],"values":[0,20,40,60,80,100],"offset":37,"tickSize":8,"labelFontSize":23,"titlePadding":3,"titleLineHeight":38}},"y2":{"field":"hi"}}},
     {"data":{"name":"d_mean"},"transform":[{"fold":["lo","hi"],"as":["k","v"]}],"mark":{"type":"tick","orient":"horizontal","size":16,"thickness":2.5,"opacity":1},
      "encoding":{"y":{"field":"v","type":"quantitative","scale":{"domain":[0,110],"nice":false},"axis":{"title":["[³H]spiperone bound","(% maximum)"],"values":[0,20,40,60,80,100],"offset":37,"tickSize":8,"labelFontSize":23,"titlePadding":3,"titleLineHeight":38}}}},
     {"data":{"name":"d_rep"},"transform":[{"filter":"datum.s == 'control'"}],"mark":{"type":"point","filled":false,"size":40,"strokeWidth":2,"opacity":1}},
     {"data":{"name":"d_rep"},"transform":[{"filter":"datum.s != 'control'"}],"mark":{"type":"point","filled":true,"size":40,"opacity":1}},
     {"data":{"name":"d_mean"},"transform":[{"filter":"datum.s != 'control'"}],"mark":{"type":"point","filled":true,"size":240,"stroke":"#1f44f0","strokeWidth":1,"opacity":1},
      "encoding":{"fill":{"field":"s","type":"nominal","scale":{"domain":["control","+ScFv16"],"range":["transparent","#1f44f0"]},
       "legend":{"orient":"none","legendX":-3,"legendY":167,"title":null,"symbolType":"M-1,0H1M0.55,0A0.55,0.55 0 1 1 -0.55,0A0.55,0.55 0 1 1 0.55,0Z","symbolSize":484,"symbolStrokeColor":"#1f44f0","symbolStrokeWidth":2.5,"labelFontSize":20.5,"labelOffset":23,"rowPadding":2,"labelColor":"#1f44f0"}}}},
     {"data":{"name":"d_mean"},"transform":[{"filter":"datum.s == 'control'"}],"mark":{"type":"point","filled":false,"size":160,"strokeWidth":2.5,"opacity":1}}
    ]
   }
  ]
 }
]
}
